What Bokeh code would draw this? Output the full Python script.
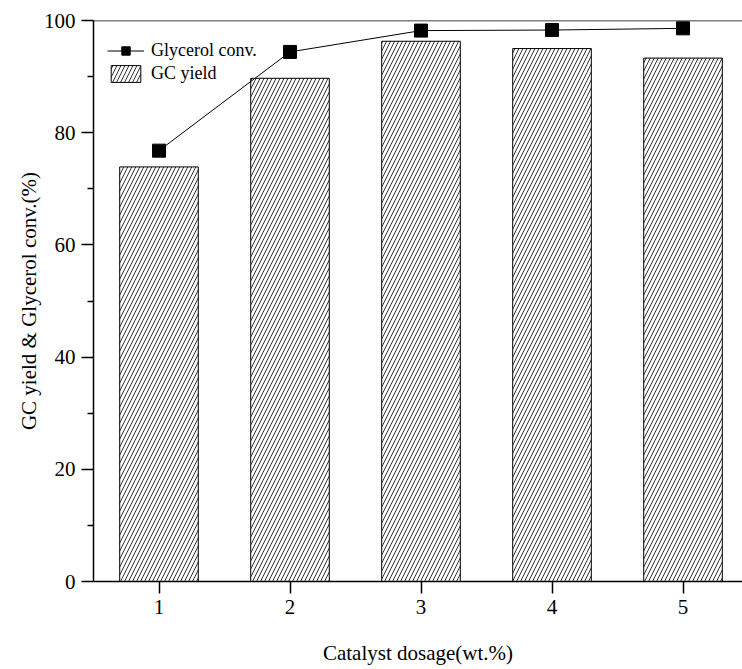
from bokeh.plotting import figure
from bokeh.models import Range1d, FixedTicker, Span, Legend, LegendItem
from bokeh.embed import file_html
from bokeh.resources import INLINE

# Data
dosage = [1, 2, 3, 4, 5]
gc_yield = [73.9, 89.7, 96.3, 95.0, 93.3]
glycerol_conv = [76.8, 94.4, 98.2, 98.3, 98.6]
x_ticks = [1, 2, 3, 4, 5]
y_ticks = [0, 20, 40, 60, 80, 100]
y_minor = [10, 30, 50, 70, 90]

FONT = "Liberation Serif"

p = figure(frame_width=649, frame_height=561, output_backend="svg",
           toolbar_location=None, x_range=Range1d(0.5, 5.454), y_range=Range1d(0, 100),
           min_border_left=93, min_border_right=0, min_border_top=20, min_border_bottom=0)
p.outline_line_color = None
p.xgrid.visible = False
p.ygrid.visible = False
p.background_fill_color = "white"
p.border_fill_color = "white"

bars = p.vbar(x=dosage, top=gc_yield, width=0.6, fill_color="white", line_color="black",
              line_width=1, hatch_pattern="/", hatch_color="black", hatch_scale=8,
              hatch_weight=0.8)
line = p.line(dosage, glycerol_conv, line_color="black", line_width=1)
pts = p.scatter(dosage, glycerol_conv, marker="square", size=13, fill_color="black",
                line_color="black")

p.add_layout(Span(location=100, dimension="width", line_color="black", line_width=1.5))

for ax in (p.xaxis[0], p.yaxis[0]):
    ax.axis_line_width = 1.5
    ax.axis_line_color = "black"
    ax.major_tick_line_width = 1.5
    ax.minor_tick_line_width = 1.5
    ax.major_tick_out = 12
    ax.major_tick_in = 0
    ax.minor_tick_in = 0
    ax.major_label_text_font = FONT
    ax.major_label_text_font_size = "21px"
    ax.major_label_text_color = "black"
    ax.axis_label_text_font = FONT
    ax.axis_label_text_font_size = "21px"
    ax.axis_label_text_font_style = "normal"
    ax.axis_label_text_color = "black"
    ax.major_label_standoff = 6

p.xaxis[0].ticker = FixedTicker(ticks=x_ticks)
p.xaxis[0].minor_tick_out = 0
p.xaxis[0].axis_label = "Catalyst dosage(wt.%)"
p.xaxis[0].axis_label_standoff = 24

p.yaxis[0].ticker = FixedTicker(ticks=y_ticks, minor_ticks=y_minor)
p.yaxis[0].minor_tick_out = 6
p.yaxis[0].axis_label = "GC yield & Glycerol conv.(%)"
p.yaxis[0].axis_label_standoff = 0

legend = Legend(items=[LegendItem(label="Glycerol conv.", renderers=[line, pts]),
                       LegendItem(label="GC yield", renderers=[bars])],
                location=(14, 497), border_line_color=None, background_fill_alpha=0,
                label_text_font=FONT, label_text_font_size="18px",
                label_text_color="black",
                glyph_width=37, glyph_height=21, label_standoff=7, spacing=2,
                margin=0, padding=0)
p.add_layout(legend)

open("out.html", "w").write(file_html(p, INLINE))
